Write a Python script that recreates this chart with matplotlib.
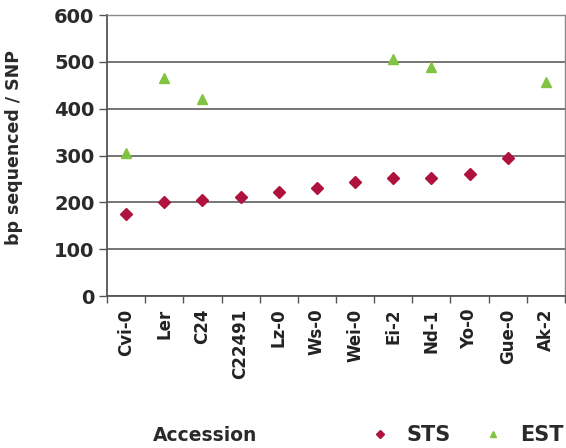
import numpy as np
import matplotlib
matplotlib.use('Agg')
import matplotlib.pyplot as plt
from matplotlib.ticker import FixedLocator, FixedFormatter, NullFormatter

# values
accessions = ['Cvi-0', 'Ler', 'C24', 'C22491', 'Lz-0', 'Ws-0',
              'Wei-0', 'Ei-2', 'Nd-1', 'Yo-0', 'Gue-0', 'Ak-2']
sts = [176, 200, 206, 211, 222, 230, 244, 251, 251, 260, 295, np.nan]
est = [305, 465, 420, np.nan, np.nan, np.nan, np.nan, 506, 488,
       np.nan, np.nan, 458]
y_ticks = [0, 100, 200, 300, 400, 500, 600]

red = '#B0123E'
green = '#82C341'
grid_col = '#6a6a6a'

plt.rcParams['font.family'] = ['DejaVu Sans']
plt.rcParams['font.weight'] = 'bold'

fig = plt.figure(figsize=(5.66, 4.48), dpi=100)
ax = fig.add_axes([107 / 566, 152 / 448, 458 / 566, 281 / 448])

x = np.arange(len(accessions))

ax.plot(x, sts, linestyle='none', marker='D', ms=6.5, color=red,
        mec=red, label='STS', zorder=3)
ax.plot(x, est, linestyle='none', marker='^', ms=7.5, color=green,
        mec=green, label='EST', zorder=3)

ax.set_ylim(0, 600)
ax.set_xlim(-0.5, len(accessions) - 0.5)
ax.set_yticks(y_ticks)
ax.yaxis.grid(True, color=grid_col, lw=1.3)
ax.set_axisbelow(True)

# ticks at category boundaries, labels at category centres
ax.xaxis.set_major_locator(FixedLocator(np.arange(-0.5, len(accessions), 1.0)))
ax.xaxis.set_major_formatter(NullFormatter())
ax.xaxis.set_minor_locator(FixedLocator(x))
ax.xaxis.set_minor_formatter(FixedFormatter(accessions))
ax.tick_params(axis='x', which='major', length=5, width=1, color='#555555',
               direction='out')
ax.tick_params(axis='x', which='minor', length=0, pad=9, labelsize=12,
               labelrotation=90, labelcolor='#222222')
ax.tick_params(axis='y', length=6, width=1, color='#555555', pad=3,
               labelsize=14, labelcolor='#2a2a2a')

for side in ['left', 'bottom']:
    ax.spines[side].set_color('#555555')
    ax.spines[side].set_linewidth(1.3)
for side in ['right', 'top']:
    ax.spines[side].set_color('#888888')
    ax.spines[side].set_linewidth(1.0)

ax.set_ylabel('bp sequenced / SNP', fontsize=12.5, fontweight='bold',
              color='#2a2a2a')
ax.yaxis.set_label_coords(-0.183, 0.527)

fig.text(153 / 566, 1 - 435 / 448, 'Accession', ha='left', va='center',
         fontsize=13.5, color='#2a2a2a')

fig.legend(loc='center right', bbox_to_anchor=(0.995, 1 - 435 / 448),
           ncol=2, frameon=False, fontsize=15, markerscale=0.6,
           handlelength=0.8, handletextpad=0.9, columnspacing=1.6,
           borderpad=0, borderaxespad=0, labelcolor='#2a2a2a')

plt.savefig('out.png', dpi=100)
